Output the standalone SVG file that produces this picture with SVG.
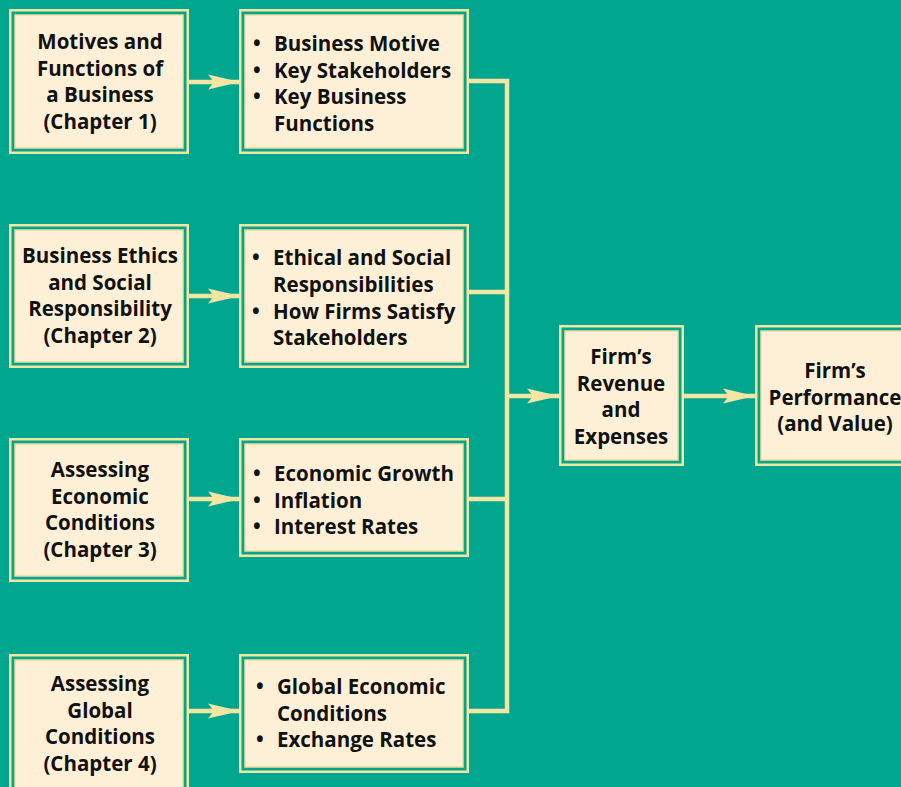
<svg xmlns="http://www.w3.org/2000/svg" width="901" height="787" viewBox="0 0 901 787">
<defs>
<style>
.o{fill:none;stroke:#f5e5a3;stroke-width:2.5}
.i{fill:#fdf0d6;stroke:#f0dd95;stroke-width:1.5}
.t{font-family:"Open Sans","Liberation Sans",Arial,sans-serif;font-weight:bold;font-size:20.5px;fill:#111}
.c{text-anchor:middle}
.ln{fill:none;stroke:#f5e5a3;stroke-width:4.5}
</style>
<marker id="ah" markerUnits="userSpaceOnUse" markerWidth="34" markerHeight="18" refX="32" refY="9" orient="auto">
<path d="M0,1.5 L32,9 L0,16.5 L6,9 Z" fill="#f5e5a3"/>
</marker>
</defs>
<rect width="901" height="787" fill="#00a68d"/>

<g id="connectors">
<line class="ln" x1="188" y1="82" x2="240" y2="82" marker-end="url(#ah)"/>
<line class="ln" x1="188" y1="296" x2="240" y2="296" marker-end="url(#ah)"/>
<line class="ln" x1="188" y1="499" x2="240" y2="499" marker-end="url(#ah)"/>
<line class="ln" x1="188" y1="711" x2="240" y2="711" marker-end="url(#ah)"/>
<polyline class="ln" points="468,81 507,81 507,711 468,711"/>
<line class="ln" x1="468" y1="292" x2="507" y2="292"/>
<line class="ln" x1="468" y1="499" x2="507" y2="499"/>
<line class="ln" x1="507" y1="396" x2="559" y2="396" marker-end="url(#ah)"/>
<line class="ln" x1="683" y1="396" x2="755" y2="396" marker-end="url(#ah)"/>
</g>

<g id="ch1">
<rect class="o" x="10.25" y="10.25" width="177.5" height="142.5"/>
<rect class="i" x="15" y="15" width="168" height="133"/>
<text class="t c" x="100"><tspan x="100" y="49">Motives and</tspan><tspan x="100" y="75.5">Functions of</tspan><tspan x="100" y="102">a Business</tspan><tspan x="100" y="128.5">(Chapter 1)</tspan></text>
</g>
<g id="ch1items">
<rect class="o" x="240.25" y="10.25" width="227.5" height="142.5"/>
<rect class="i" x="245" y="15" width="218" height="133"/>
<text class="t"><tspan x="253" y="51">•</tspan><tspan x="274" y="51">Business Motive</tspan><tspan x="253" y="77.5">•</tspan><tspan x="274" y="77.5">Key Stakeholders</tspan><tspan x="253" y="104">•</tspan><tspan x="274" y="104">Key Business</tspan><tspan x="274" y="130.5">Functions</tspan></text>
</g>

<g id="ch2">
<rect class="o" x="10.25" y="225.25" width="177.5" height="141.5"/>
<rect class="i" x="15" y="230" width="168" height="132"/>
<text class="t c"><tspan x="100" y="263">Business Ethics</tspan><tspan x="100" y="289.5">and Social</tspan><tspan x="100" y="316">Responsibility</tspan><tspan x="100" y="342.5">(Chapter 2)</tspan></text>
</g>
<g id="ch2items">
<rect class="o" x="240.25" y="225.25" width="227.5" height="141.5"/>
<rect class="i" x="245" y="230" width="218" height="132"/>
<text class="t"><tspan x="252" y="265">•</tspan><tspan x="273" y="265">Ethical and Social</tspan><tspan x="273" y="291.5">Responsibilities</tspan><tspan x="252" y="318.5">•</tspan><tspan x="273" y="318.5">How Firms Satisfy</tspan><tspan x="273" y="345">Stakeholders</tspan></text>
</g>

<g id="ch3">
<rect class="o" x="10.25" y="439.25" width="177.5" height="141.5"/>
<rect class="i" x="15" y="444" width="168" height="132"/>
<text class="t c"><tspan x="100" y="477">Assessing</tspan><tspan x="100" y="503.5">Economic</tspan><tspan x="100" y="530">Conditions</tspan><tspan x="100" y="556.5">(Chapter 3)</tspan></text>
</g>
<g id="ch3items">
<rect class="o" x="240.25" y="439.25" width="227.5" height="116.5"/>
<rect class="i" x="245" y="444" width="218" height="107"/>
<text class="t"><tspan x="253" y="481">•</tspan><tspan x="274" y="481">Economic Growth</tspan><tspan x="253" y="507.5">•</tspan><tspan x="274" y="507.5">Inflation</tspan><tspan x="253" y="534">•</tspan><tspan x="274" y="534">Interest Rates</tspan></text>
</g>

<g id="ch4">
<rect class="o" x="10.25" y="655.25" width="177.5" height="140"/>
<rect class="i" x="15" y="660" width="168" height="135"/>
<text class="t c"><tspan x="100" y="691">Assessing</tspan><tspan x="100" y="717.5">Global</tspan><tspan x="100" y="744">Conditions</tspan><tspan x="100" y="770.5">(Chapter 4)</tspan></text>
</g>
<g id="ch4items">
<rect class="o" x="240.25" y="655.25" width="227.5" height="116.5"/>
<rect class="i" x="245" y="660" width="218" height="107"/>
<text class="t"><tspan x="256" y="694">•</tspan><tspan x="277" y="694">Global Economic</tspan><tspan x="277" y="720.5">Conditions</tspan><tspan x="256" y="747">•</tspan><tspan x="277" y="747">Exchange Rates</tspan></text>
</g>

<g id="revenue">
<rect class="o" x="560.25" y="326.25" width="122.5" height="138.5"/>
<rect class="i" x="565" y="331" width="113" height="129"/>
<text class="t c"><tspan x="621" y="364">Firm’s</tspan><tspan x="621" y="390.5">Revenue</tspan><tspan x="621" y="417">and</tspan><tspan x="621" y="443.5">Expenses</tspan></text>
</g>

<g id="performance">
<rect class="o" x="756.25" y="326.25" width="160" height="138.5"/>
<rect class="i" x="761" y="331" width="150" height="129"/>
<text class="t c"><tspan x="835" y="378">Firm’s</tspan><tspan x="835" y="404.5">Performance</tspan><tspan x="835" y="431">(and Value)</tspan></text>
</g>
</svg>
